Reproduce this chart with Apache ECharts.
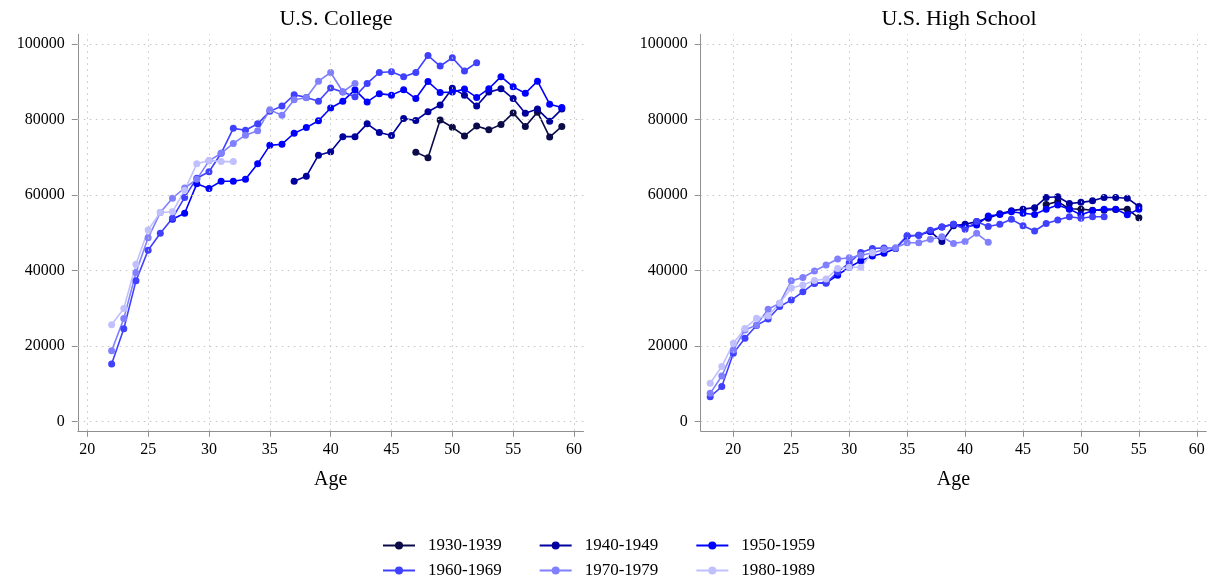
<!DOCTYPE html>
<html>
<head>
<meta charset="utf-8">
<script src="https://cdn.jsdelivr.net/npm/echarts@6/dist/echarts.min.js"></script>
<style>
  html, body { margin: 0; padding: 0; background: #ffffff; }
  #chart { width: 1215px; height: 586px; }
</style>
</head>
<body>
<div id="chart"></div>
<script>
// Birth cohorts and their colours (dark navy to pale lavender)
const cohorts = ['1930-1939', '1940-1949', '1950-1959', '1960-1969', '1970-1979', '1980-1989'];
const cohortColors = ['#0b0b48', '#00009c', '#0000ff', '#4040ff', '#8080ff', '#c0c0ff'];

// Axis tick labels
const xTicks = [20, 25, 30, 35, 40, 45, 50, 55, 60];
const yTicks = [0, 20000, 40000, 60000, 80000, 100000];

// U.S. College: mean earnings by age, one array per cohort, starting at the given age
const collegeStartAge = [47, 37, 27, 22, 22, 22];
const college1930 = [71300, 69800, 79800, 77900, 75600, 78200, 77200, 78600, 81700, 78100, 81900, 75300, 78100];
const college1940 = [63600, 64900, 70500, 71400, 75400, 75400, 78800, 76500, 75700, 80200, 79700, 82000, 83800,
                     88200, 86400, 83500, 87200, 88100, 85500, 81600, 82700, 79500, 82700];
const college1950 = [53500, 55100, 62900, 61700, 63600, 63600, 64100, 68200, 73100, 73400, 76300, 77800, 79600,
                     83000, 84800, 87800, 84600, 86800, 86400, 87800, 85500, 90000, 87100, 87200, 88000, 85800,
                     88100, 91300, 88600, 86900, 90100, 84000, 83100];
const college1960 = [15200, 24500, 37200, 45300, 49800, 53800, 59300, 64400, 66100, 71000, 77600, 77100, 78800,
                     82100, 83500, 86500, 85800, 84800, 88300, 87200, 86000, 89500, 92400, 92600, 91300, 92400,
                     96900, 94100, 96300, 92800, 95000];
const college1970 = [18700, 27200, 39400, 48600, 55300, 59100, 61800, 64100, 69000, 71000, 73600, 75800, 77000,
                     82500, 81100, 85200, 85700, 90100, 92400, 87300, 89500];
const college1980 = [25600, 29900, 41600, 50700, 55300, 55500, 61200, 68200, 69100, 68800, 68800];

// U.S. High School: mean earnings by age, one array per cohort, starting at the given age
const highSchoolStartAge = [47, 37, 27, 18, 18, 18];
const highSchool1930 = [57400, 58200, 56300, 56200, 55900, 55900, 56100, 56200, 53900];
const highSchool1940 = [50300, 47600, 51800, 52200, 52900, 53800, 55000, 55800, 56200, 56600, 59300, 59500, 57700,
                        58000, 58400, 59300, 59300, 59100, 56900];
const highSchool1950 = [36600, 36700, 38700, 40800, 42500, 43800, 44500, 45800, 49000, 49300, 50300, 51500, 52200,
                        51500, 52000, 54400, 54800, 55500, 55100, 54800, 56200, 57300, 56200, 54700, 55800, 56200,
                        56200, 54700, 56200];
const highSchool1960 = [6500, 9200, 18000, 22000, 25400, 27100, 30400, 32100, 34300, 36600, 36600, 39500, 42000,
                        44700, 45800, 45900, 45800, 49200, 49300, 50600, 51500, 52200, 50900, 52900, 51600, 52200,
                        53500, 51800, 50400, 52400, 53300, 54200, 53800, 54200, 54200];
const highSchool1970 = [7400, 12000, 18900, 24200, 25500, 29700, 31300, 37200, 38100, 39800, 41400, 43000, 43300,
                        44000, 44600, 45500, 46000, 47300, 47300, 48200, 48900, 47100, 47600, 49800, 47400];
const highSchool1980 = [10100, 14500, 20700, 24600, 27300, 27900, 31300, 35300, 36100, 37300, 37700, 40500, 40800,
                        40800, 44700];

const collegeValues = [college1930, college1940, college1950, college1960, college1970, college1980];
const highSchoolValues = [highSchool1930, highSchool1940, highSchool1950, highSchool1960, highSchool1970, highSchool1980];

const FONT = 'Liberation Serif, Times New Roman, serif';
const AXIS_GREY = '#8f8f8f';
const GRID_GREY = '#c4c4c4';

function toPairs(startAge, values) {
  return values.map((v, i) => [startAge + i, v]);
}

function xAxisFor(gridIndex, min, max) {
  return {
    type: 'value', gridIndex: gridIndex, min: min, max: max,
    name: 'Age', nameLocation: 'middle', nameGap: 39,
    nameTextStyle: { fontFamily: FONT, fontSize: 20, color: '#000' },
    axisLine: { show: true, onZero: false, lineStyle: { color: AXIS_GREY, width: 1 } },
    axisTick: { show: true, length: 6, customValues: xTicks, lineStyle: { color: AXIS_GREY } },
    axisLabel: { customValues: xTicks, margin: 11, fontFamily: FONT, fontSize: 16, color: '#000' },
    splitLine: { show: false }
  };
}

function yAxisFor(gridIndex) {
  return {
    type: 'value', gridIndex: gridIndex, min: -2517, max: 102517,
    axisLine: { show: true, onZero: false, lineStyle: { color: AXIS_GREY, width: 1 } },
    axisTick: { show: true, length: 6, customValues: yTicks, lineStyle: { color: AXIS_GREY } },
    axisLabel: { customValues: yTicks, margin: 13, fontFamily: FONT, fontSize: 16, color: '#000',
                 formatter: v => String(v) },
    splitLine: { show: false }
  };
}

// Dotted reference grid at every labelled tick, drawn beneath the data
function gridLines(axisIndex) {
  return {
    name: 'gridlines', type: 'line', xAxisIndex: axisIndex, yAxisIndex: axisIndex,
    data: [], silent: true, z: 1,
    markLine: {
      silent: true, symbol: ['none', 'none'], label: { show: false },
      emphasis: { disabled: true }, animation: false,
      lineStyle: { color: GRID_GREY, type: [1.5, 4.5], width: 1 },
      data: xTicks.map(v => ({ xAxis: v })).concat(yTicks.map(v => ({ yAxis: v })))
    }
  };
}

function panelSeries(axisIndex, startAges, valueSets) {
  return cohorts.map((name, i) => ({
    name: name,
    type: 'line',
    xAxisIndex: axisIndex, yAxisIndex: axisIndex,
    data: toPairs(startAges[i], valueSets[i]),
    symbol: 'circle', symbolSize: 7, showAllSymbol: true,
    lineStyle: { color: cohortColors[i], width: 1.6 },
    itemStyle: { color: cohortColors[i] },
    emphasis: { disabled: true },
    silent: true, z: 2
  }));
}

const legendText = { fontFamily: FONT, fontSize: 17, color: '#000', padding: [0, 0, 0, 8] };

const option = {
  backgroundColor: '#ffffff',
  animation: false,
  title: [
    { text: 'U.S. College', left: 331, top: 3, textAlign: 'center',
      textStyle: { fontFamily: FONT, fontSize: 22, fontWeight: 'normal', color: '#000' } },
    { text: 'U.S. High School', left: 954, top: 3, textAlign: 'center',
      textStyle: { fontFamily: FONT, fontSize: 22, fontWeight: 'normal', color: '#000' } }
  ],
  grid: [
    { left: 77.8, top: 34.3, width: 505.7, height: 396.5, containLabel: false },
    { left: 700.7, top: 34.3, width: 505.6, height: 396.5, containLabel: false }
  ],
  xAxis: [
    xAxisFor(0, 20 - 9.5 / 12.167, 60 + 9.5 / 12.167),
    xAxisFor(1, 18 - 9.5 / 11.585, 60 + 9.5 / 11.585)
  ],
  yAxis: [yAxisFor(0), yAxisFor(1)],
  legend: [
    { data: cohorts.slice(0, 3), left: 382, top: 537, padding: 0, itemWidth: 32, itemHeight: 10, itemGap: 37,
      textStyle: legendText, selectedMode: false },
    { data: cohorts.slice(3), left: 382, top: 562, padding: 0, itemWidth: 32, itemHeight: 10, itemGap: 37,
      textStyle: legendText, selectedMode: false }
  ],
  series: [gridLines(0), gridLines(1)]
    .concat(panelSeries(0, collegeStartAge, collegeValues))
    .concat(panelSeries(1, highSchoolStartAge, highSchoolValues))
};

const chart = echarts.init(document.getElementById('chart'), null, { renderer: 'canvas' });
chart.setOption(option);
</script>
</body>
</html>
